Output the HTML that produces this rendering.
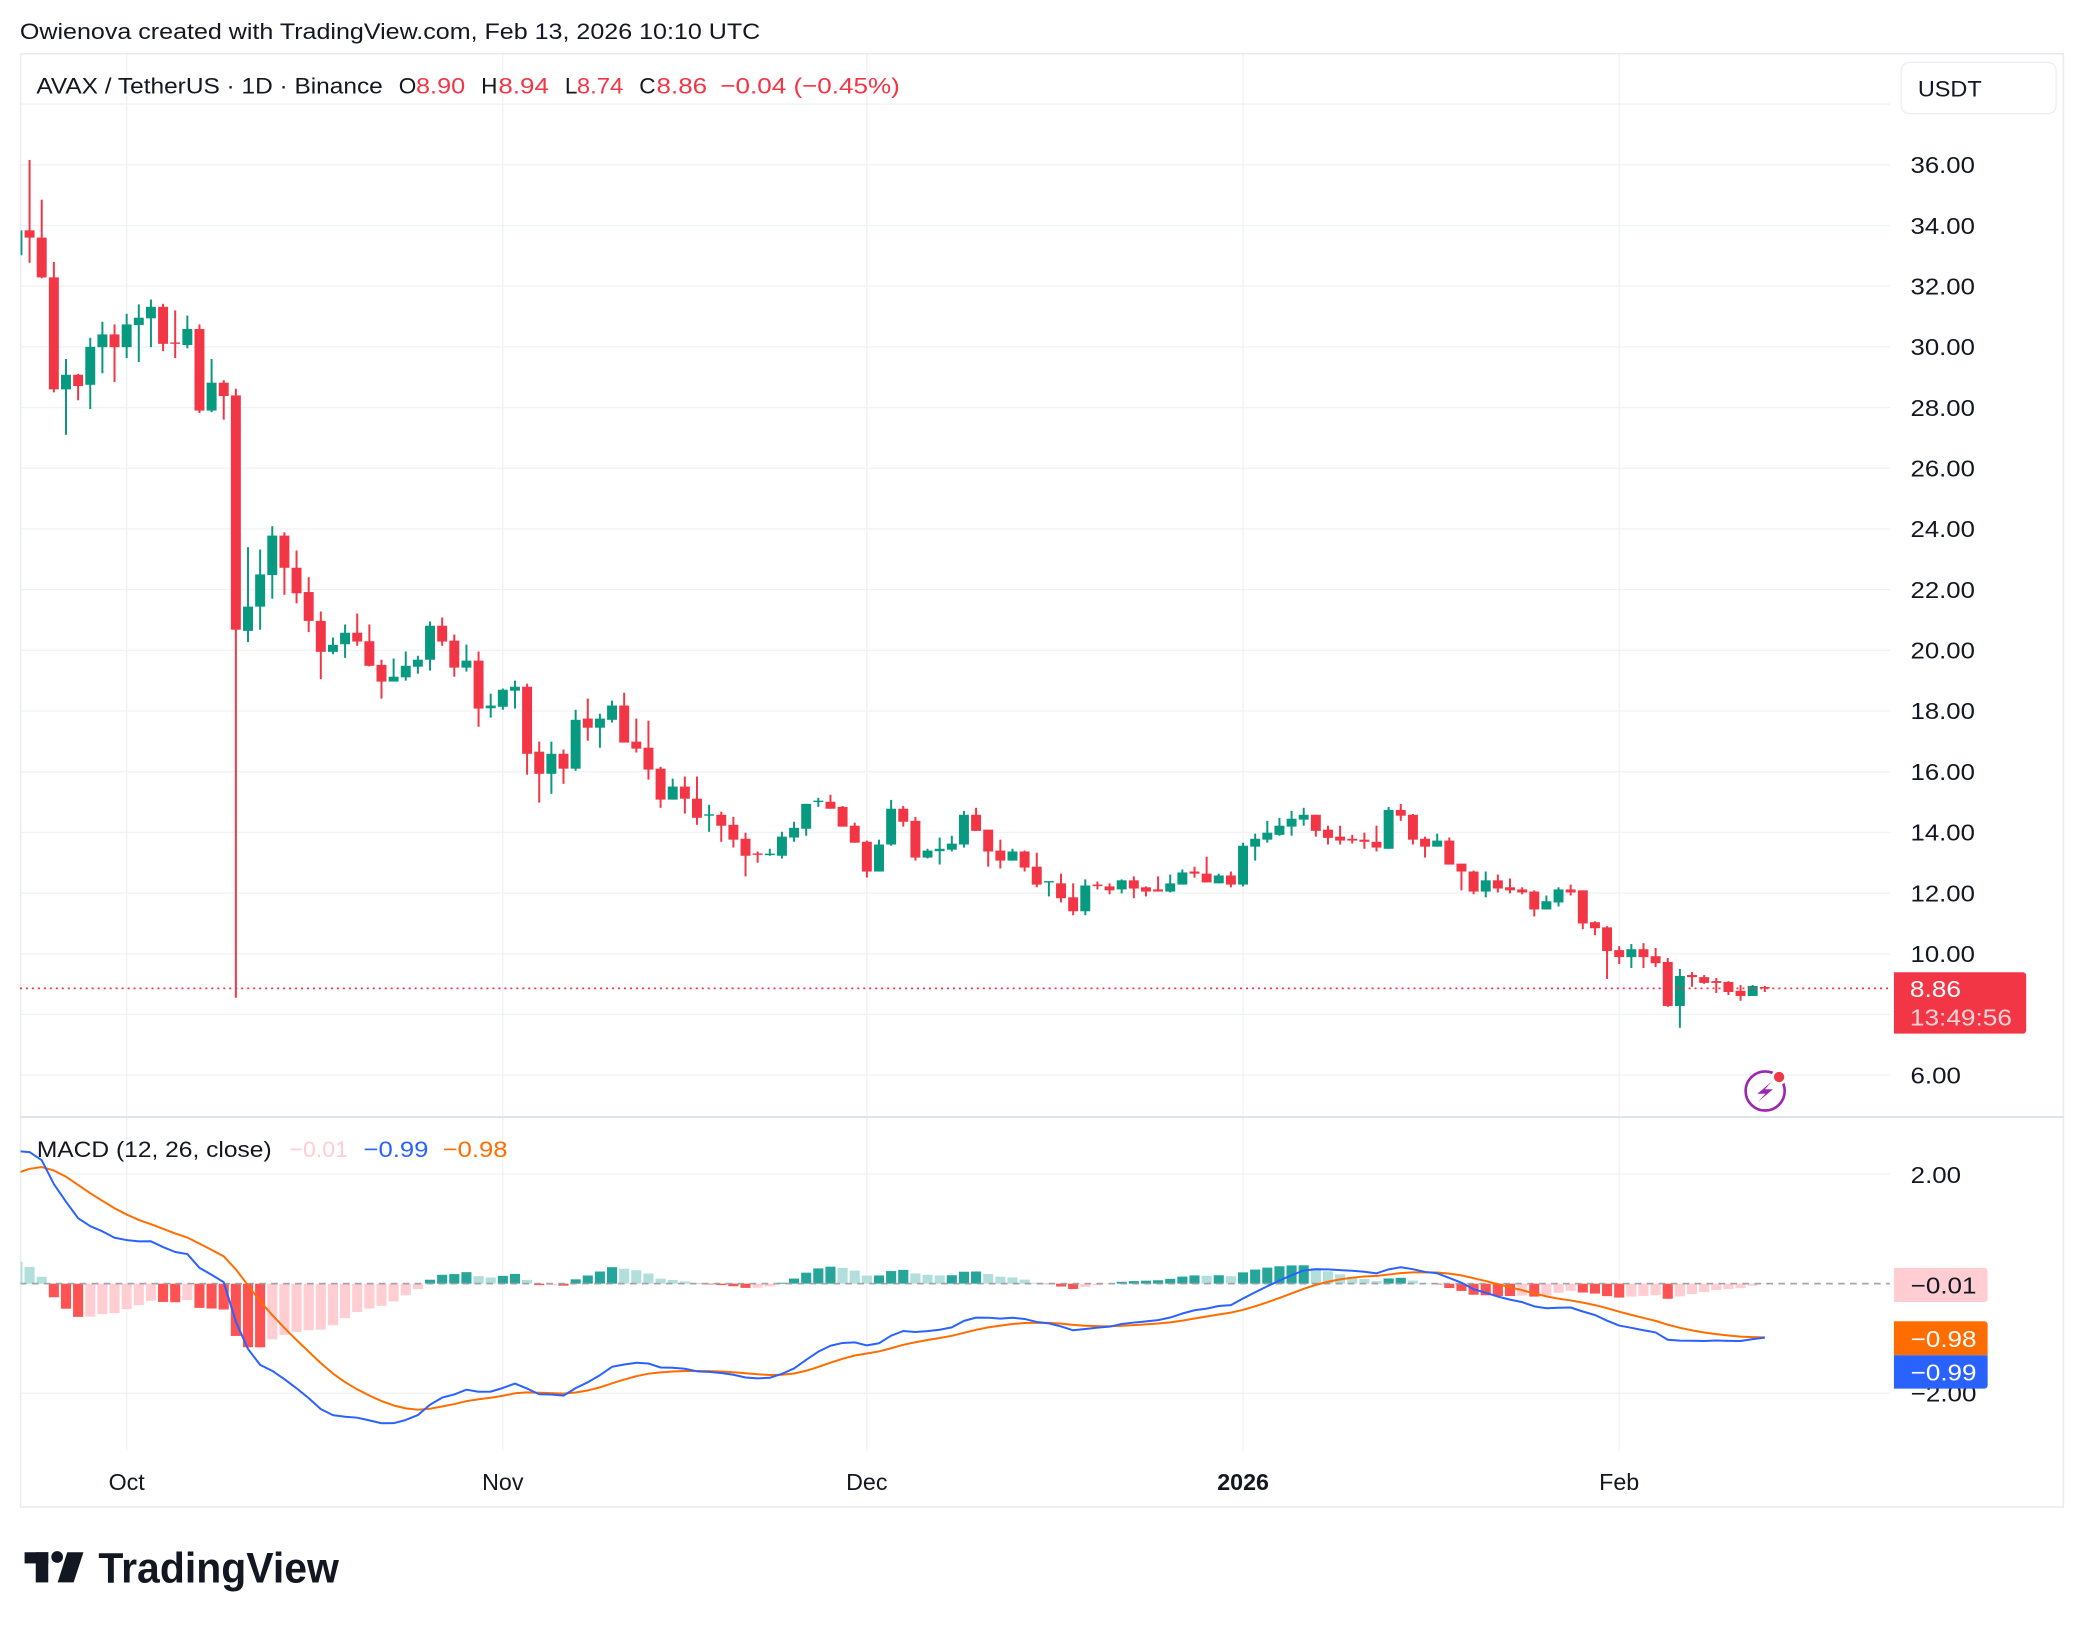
<!DOCTYPE html>
<html>
<head>
<meta charset="utf-8">
<style>
html,body{margin:0;padding:0;background:#fff;width:2084px;height:1628px;overflow:hidden}
svg{display:block}
text{font-family:"Liberation Sans",Arial,sans-serif;fill:#131722}
</style>
</head>
<body>
<svg xmlns="http://www.w3.org/2000/svg" width="2084" height="1628" viewBox="0 0 1568 1225" preserveAspectRatio="none">
<defs>
<clipPath id="cp1"><rect x="15.5" y="41" width="1406.5" height="799"/></clipPath>
<clipPath id="cp2"><rect x="15.5" y="841.5" width="1406.5" height="251"/></clipPath>
</defs>
<rect x="0" y="0" width="1568" height="1225" fill="#fff"/>
<text x="15" y="29.5" font-size="17" textLength="557" lengthAdjust="spacingAndGlyphs">Owienova created with TradingView.com, Feb 13, 2026 10:10 UTC</text>

<g stroke="#f0f2f5" stroke-width="1">
<line x1="15" x2="1422" y1="78.33" y2="78.33"/>
<line x1="15" x2="1422" y1="124" y2="124"/>
<line x1="15" x2="1422" y1="169.67" y2="169.67"/>
<line x1="15" x2="1422" y1="215.33" y2="215.33"/>
<line x1="15" x2="1422" y1="261" y2="261"/>
<line x1="15" x2="1422" y1="306.67" y2="306.67"/>
<line x1="15" x2="1422" y1="352.33" y2="352.33"/>
<line x1="15" x2="1422" y1="398" y2="398"/>
<line x1="15" x2="1422" y1="443.67" y2="443.67"/>
<line x1="15" x2="1422" y1="489.33" y2="489.33"/>
<line x1="15" x2="1422" y1="535" y2="535"/>
<line x1="15" x2="1422" y1="580.67" y2="580.67"/>
<line x1="15" x2="1422" y1="626.33" y2="626.33"/>
<line x1="15" x2="1422" y1="672" y2="672"/>
<line x1="15" x2="1422" y1="717.67" y2="717.67"/>
<line x1="15" x2="1422" y1="763.33" y2="763.33"/>
<line x1="15" x2="1422" y1="809" y2="809"/>
<line x1="15" x2="1422" y1="883.4" y2="883.4"/>
<line x1="15" x2="1422" y1="1048.4" y2="1048.4"/>
<line x1="95.3" x2="95.3" y1="41" y2="1092"/>
<line x1="378.3" x2="378.3" y1="41" y2="1092"/>
<line x1="652.2" x2="652.2" y1="41" y2="1092"/>
<line x1="935.3" x2="935.3" y1="41" y2="1092"/>
<line x1="1218.3" x2="1218.3" y1="41" y2="1092"/>
</g>

<rect x="15.5" y="40.5" width="1537" height="1093.5" fill="none" stroke="#e9ecf1" stroke-width="1.2"/>
<line x1="15" x2="1553" y1="840.5" y2="840.5" stroke="#e0e3eb" stroke-width="1.6"/>

<!-- CANDLES -->
<g clip-path="url(#cp1)">
<g transform="matrix(9.13 0 0 -22.8333 13.13 946)">
<g fill="#089981">
<rect x="-0.082" y="32.85" width=".164" height="1.05"/><rect x="-0.41" y="33.02" width=".82" height="0.82"/>
<rect x="3.918" y="27.10" width=".164" height="2.5"/><rect x="3.59" y="28.60" width=".82" height="0.48"/>
<rect x="5.918" y="27.95" width=".164" height="2.35"/><rect x="5.59" y="28.75" width=".82" height="1.25"/>
<rect x="6.918" y="29.13" width=".164" height="1.70"/><rect x="6.59" y="29.99" width=".82" height="0.42"/>
<rect x="8.918" y="29.63" width=".164" height="1.46"/><rect x="8.59" y="29.99" width=".82" height="0.75"/>
<rect x="9.918" y="29.50" width=".164" height="1.90"/><rect x="9.59" y="30.72" width=".82" height="0.24"/>
<rect x="10.918" y="29.99" width=".164" height="1.57"/><rect x="10.59" y="30.94" width=".82" height="0.38"/>
<rect x="13.918" y="29.95" width=".164" height="1.08"/><rect x="13.59" y="30.06" width=".82" height="0.53"/>
<rect x="15.918" y="27.85" width=".164" height="1.75"/><rect x="15.59" y="27.90" width=".82" height="0.92"/>
<rect x="18.918" y="20.27" width=".164" height="3.13"/><rect x="18.59" y="20.64" width=".82" height="0.80"/>
<rect x="19.918" y="20.68" width=".164" height="2.64"/><rect x="19.59" y="21.44" width=".82" height="1.06"/>
<rect x="20.918" y="21.70" width=".164" height="2.39"/><rect x="20.59" y="22.48" width=".82" height="1.30"/>
<rect x="25.918" y="19.87" width=".164" height="0.55"/><rect x="25.59" y="19.95" width=".82" height="0.23"/>
<rect x="26.918" y="19.75" width=".164" height="1.10"/><rect x="26.59" y="20.20" width=".82" height="0.38"/>
<rect x="30.918" y="18.97" width=".164" height="0.76"/><rect x="30.59" y="18.97" width=".82" height="0.16"/>
<rect x="31.918" y="19.00" width=".164" height="0.96"/><rect x="31.59" y="19.11" width=".82" height="0.38"/>
<rect x="32.918" y="19.23" width=".164" height="0.59"/><rect x="32.59" y="19.46" width=".82" height="0.23"/>
<rect x="33.918" y="19.33" width=".164" height="1.62"/><rect x="33.59" y="19.69" width=".82" height="1.12"/>
<rect x="36.918" y="19.30" width=".164" height="0.89"/><rect x="36.59" y="19.43" width=".82" height="0.23"/>
<rect x="38.918" y="17.78" width=".164" height="0.79"/><rect x="38.59" y="18.09" width=".82" height="0.09"/>
<rect x="39.918" y="18.04" width=".164" height="0.70"/><rect x="39.59" y="18.14" width=".82" height="0.56"/>
<rect x="40.918" y="18.08" width=".164" height="0.92"/><rect x="40.59" y="18.67" width=".82" height="0.13"/>
<rect x="43.918" y="15.27" width=".164" height="1.72"/><rect x="43.59" y="15.93" width=".82" height="0.66"/>
<rect x="45.918" y="16.03" width=".164" height="2.01"/><rect x="45.59" y="16.10" width=".82" height="1.61"/>
<rect x="47.918" y="16.79" width=".164" height="1.12"/><rect x="47.59" y="17.45" width=".82" height="0.30"/>
<rect x="48.918" y="17.62" width=".164" height="0.72"/><rect x="48.59" y="17.71" width=".82" height="0.47"/>
<rect x="53.918" y="15.08" width=".164" height="0.69"/><rect x="53.59" y="15.08" width=".82" height="0.43"/>
<rect x="56.918" y="14.02" width=".164" height="0.89"/><rect x="56.59" y="14.55" width=".82" height="0.045"/>
<rect x="61.918" y="13.23" width=".164" height="0.23"/><rect x="61.59" y="13.25" width=".82" height="0.05"/>
<rect x="62.918" y="13.14" width=".164" height="0.88"/><rect x="62.59" y="13.23" width=".82" height="0.63"/>
<rect x="63.918" y="13.69" width=".164" height="0.66"/><rect x="63.59" y="13.83" width=".82" height="0.32"/>
<rect x="64.918" y="13.89" width=".164" height="1.05"/><rect x="64.59" y="14.12" width=".82" height="0.82"/>
<rect x="65.918" y="14.84" width=".164" height="0.30"/><rect x="65.59" y="15.00" width=".82" height="0.045"/>
<rect x="70.918" y="12.71" width=".164" height="1.05"/><rect x="70.59" y="12.71" width=".82" height="0.89"/>
<rect x="71.918" y="13.56" width=".164" height="1.51"/><rect x="71.59" y="13.60" width=".82" height="1.18"/>
<rect x="74.918" y="13.14" width=".164" height="0.32"/><rect x="74.59" y="13.17" width=".82" height="0.23"/>
<rect x="75.918" y="12.94" width=".164" height="0.89"/><rect x="75.59" y="13.38" width=".82" height="0.08"/>
<rect x="76.918" y="13.37" width=".164" height="0.52"/><rect x="76.59" y="13.43" width=".82" height="0.20"/>
<rect x="77.918" y="13.50" width=".164" height="1.21"/><rect x="77.59" y="13.60" width=".82" height="0.98"/>
<rect x="81.918" y="13.07" width=".164" height="0.39"/><rect x="81.59" y="13.07" width=".82" height="0.30"/>
<rect x="84.918" y="11.89" width=".164" height="0.49"/><rect x="84.59" y="12.35" width=".82" height="0.045"/>
<rect x="87.918" y="11.27" width=".164" height="1.18"/><rect x="87.59" y="11.40" width=".82" height="0.85"/>
<rect x="90.918" y="11.99" width=".164" height="0.46"/><rect x="90.59" y="12.12" width=".82" height="0.30"/>
<rect x="94.918" y="12.02" width=".164" height="0.59"/><rect x="94.59" y="12.05" width=".82" height="0.27"/>
<rect x="95.918" y="12.28" width=".164" height="0.50"/><rect x="95.59" y="12.28" width=".82" height="0.40"/>
<rect x="98.918" y="12.32" width=".164" height="0.32"/><rect x="98.59" y="12.32" width=".82" height="0.26"/>
<rect x="100.918" y="12.22" width=".164" height="1.44"/><rect x="100.59" y="12.28" width=".82" height="1.28"/>
<rect x="101.918" y="13.07" width=".164" height="0.89"/><rect x="101.59" y="13.53" width=".82" height="0.26"/>
<rect x="102.918" y="13.66" width=".164" height="0.72"/><rect x="102.59" y="13.76" width=".82" height="0.23"/>
<rect x="103.918" y="13.89" width=".164" height="0.59"/><rect x="103.59" y="13.92" width=".82" height="0.30"/>
<rect x="104.918" y="13.89" width=".164" height="0.82"/><rect x="104.59" y="14.19" width=".82" height="0.26"/>
<rect x="105.918" y="14.22" width=".164" height="0.59"/><rect x="105.59" y="14.42" width=".82" height="0.16"/>
<rect x="112.918" y="13.46" width=".164" height="1.38"/><rect x="112.59" y="13.46" width=".82" height="1.28"/>
<rect x="116.918" y="13.53" width=".164" height="0.43"/><rect x="116.59" y="13.53" width=".82" height="0.20"/>
<rect x="120.918" y="11.86" width=".164" height="0.85"/><rect x="120.59" y="12.05" width=".82" height="0.37"/>
<rect x="125.918" y="11.46" width=".164" height="0.46"/><rect x="125.59" y="11.46" width=".82" height="0.27"/>
<rect x="126.918" y="11.56" width=".164" height="0.63"/><rect x="126.59" y="11.69" width=".82" height="0.43"/>
<rect x="132.918" y="9.53" width=".164" height="0.79"/><rect x="132.59" y="9.89" width=".82" height="0.26"/>
<rect x="136.918" y="7.56" width=".164" height="1.94"/><rect x="136.59" y="8.28" width=".82" height="0.99"/>
<rect x="142.918" y="8.61" width=".164" height="0.36"/><rect x="142.59" y="8.61" width=".82" height="0.33"/>
</g>
<g fill="#F23645">
<rect x="0.918" y="32.77" width=".164" height="3.39"/><rect x="0.59" y="33.60" width=".82" height="0.24"/>
<rect x="1.918" y="32.26" width=".164" height="2.59"/><rect x="1.59" y="32.29" width=".82" height="1.31"/>
<rect x="2.918" y="28.50" width=".164" height="4.30"/><rect x="2.59" y="28.60" width=".82" height="3.69"/>
<rect x="4.918" y="28.24" width=".164" height="0.87"/><rect x="4.59" y="28.71" width=".82" height="0.37"/>
<rect x="7.918" y="28.84" width=".164" height="1.90"/><rect x="7.59" y="29.99" width=".82" height="0.42"/>
<rect x="11.918" y="29.86" width=".164" height="1.56"/><rect x="11.59" y="30.10" width=".82" height="1.22"/>
<rect x="12.918" y="29.63" width=".164" height="1.57"/><rect x="12.59" y="30.10" width=".82" height="0.045"/>
<rect x="14.918" y="27.82" width=".164" height="2.92"/><rect x="14.59" y="27.90" width=".82" height="2.69"/>
<rect x="16.918" y="27.60" width=".164" height="1.30"/><rect x="16.59" y="28.38" width=".82" height="0.44"/>
<rect x="17.918" y="8.55" width=".164" height="20.07"/><rect x="17.59" y="20.68" width=".82" height="7.72"/>
<rect x="21.918" y="21.83" width=".164" height="2.06"/><rect x="21.59" y="22.72" width=".82" height="1.06"/>
<rect x="22.918" y="21.55" width=".164" height="1.74"/><rect x="22.59" y="21.88" width=".82" height="0.84"/>
<rect x="23.918" y="20.60" width=".164" height="1.81"/><rect x="23.59" y="20.97" width=".82" height="0.95"/>
<rect x="24.918" y="19.05" width=".164" height="2.23"/><rect x="24.59" y="19.95" width=".82" height="1.02"/>
<rect x="27.918" y="20.15" width=".164" height="1.06"/><rect x="27.59" y="20.29" width=".82" height="0.29"/>
<rect x="28.918" y="19.47" width=".164" height="1.38"/><rect x="28.59" y="19.49" width=".82" height="0.81"/>
<rect x="29.918" y="18.41" width=".164" height="1.28"/><rect x="29.59" y="18.97" width=".82" height="0.55"/>
<rect x="34.918" y="20.15" width=".164" height="0.93"/><rect x="34.59" y="20.29" width=".82" height="0.52"/>
<rect x="35.918" y="19.13" width=".164" height="1.39"/><rect x="35.59" y="19.43" width=".82" height="0.89"/>
<rect x="37.918" y="17.48" width=".164" height="2.48"/><rect x="37.59" y="18.08" width=".82" height="1.58"/>
<rect x="41.918" y="15.90" width=".164" height="3.00"/><rect x="41.59" y="16.59" width=".82" height="2.21"/>
<rect x="42.918" y="14.98" width=".164" height="2.01"/><rect x="42.59" y="15.93" width=".82" height="0.73"/>
<rect x="44.918" y="15.60" width=".164" height="1.13"/><rect x="44.59" y="16.10" width=".82" height="0.49"/>
<rect x="46.918" y="17.02" width=".164" height="1.39"/><rect x="46.59" y="17.45" width=".82" height="0.30"/>
<rect x="49.918" y="16.96" width=".164" height="1.64"/><rect x="49.59" y="16.96" width=".82" height="1.22"/>
<rect x="50.918" y="16.63" width=".164" height="1.12"/><rect x="50.59" y="16.76" width=".82" height="0.23"/>
<rect x="51.918" y="15.74" width=".164" height="1.94"/><rect x="51.59" y="16.07" width=".82" height="0.72"/>
<rect x="52.918" y="14.81" width=".164" height="1.35"/><rect x="52.59" y="15.08" width=".82" height="1.02"/>
<rect x="54.918" y="14.62" width=".164" height="1.22"/><rect x="54.59" y="15.11" width=".82" height="0.40"/>
<rect x="55.918" y="14.25" width=".164" height="1.59"/><rect x="55.59" y="14.48" width=".82" height="0.63"/>
<rect x="57.918" y="13.69" width=".164" height="0.99"/><rect x="57.59" y="14.22" width=".82" height="0.36"/>
<rect x="58.918" y="13.50" width=".164" height="1.01"/><rect x="58.59" y="13.76" width=".82" height="0.49"/>
<rect x="59.918" y="12.55" width=".164" height="1.44"/><rect x="59.59" y="13.23" width=".82" height="0.56"/>
<rect x="60.918" y="13.00" width=".164" height="0.37"/><rect x="60.59" y="13.26" width=".82" height="0.045"/>
<rect x="66.918" y="14.78" width=".164" height="0.46"/><rect x="66.59" y="14.78" width=".82" height="0.23"/>
<rect x="67.918" y="14.19" width=".164" height="0.68"/><rect x="67.59" y="14.19" width=".82" height="0.65"/>
<rect x="68.918" y="13.66" width=".164" height="0.66"/><rect x="68.59" y="13.66" width=".82" height="0.56"/>
<rect x="69.918" y="12.51" width=".164" height="1.22"/><rect x="69.59" y="12.71" width=".82" height="0.98"/>
<rect x="72.918" y="14.19" width=".164" height="0.68"/><rect x="72.59" y="14.35" width=".82" height="0.43"/>
<rect x="73.918" y="13.07" width=".164" height="1.44"/><rect x="73.59" y="13.17" width=".82" height="1.21"/>
<rect x="78.918" y="14.05" width=".164" height="0.76"/><rect x="78.59" y="14.05" width=".82" height="0.53"/>
<rect x="79.918" y="12.87" width=".164" height="1.22"/><rect x="79.59" y="13.37" width=".82" height="0.72"/>
<rect x="80.918" y="12.81" width=".164" height="0.95"/><rect x="80.59" y="13.07" width=".82" height="0.33"/>
<rect x="82.918" y="12.71" width=".164" height="0.69"/><rect x="82.59" y="12.84" width=".82" height="0.53"/>
<rect x="83.918" y="12.19" width=".164" height="1.14"/><rect x="83.59" y="12.28" width=".82" height="0.59"/>
<rect x="85.918" y="11.69" width=".164" height="0.95"/><rect x="85.59" y="11.83" width=".82" height="0.49"/>
<rect x="86.918" y="11.27" width=".164" height="1.05"/><rect x="86.59" y="11.40" width=".82" height="0.46"/>
<rect x="88.918" y="12.12" width=".164" height="0.26"/><rect x="88.59" y="12.23" width=".82" height="0.05"/>
<rect x="89.918" y="11.96" width=".164" height="0.36"/><rect x="89.59" y="12.09" width=".82" height="0.13"/>
<rect x="91.918" y="11.83" width=".164" height="0.72"/><rect x="91.59" y="12.15" width=".82" height="0.27"/>
<rect x="92.918" y="11.89" width=".164" height="0.33"/><rect x="92.59" y="12.05" width=".82" height="0.14"/>
<rect x="93.918" y="12.05" width=".164" height="0.50"/><rect x="93.59" y="12.05" width=".82" height="0.07"/>
<rect x="96.918" y="12.51" width=".164" height="0.36"/><rect x="96.59" y="12.64" width=".82" height="0.07"/>
<rect x="97.918" y="12.35" width=".164" height="0.85"/><rect x="97.59" y="12.35" width=".82" height="0.29"/>
<rect x="99.918" y="12.19" width=".164" height="0.52"/><rect x="99.59" y="12.28" width=".82" height="0.30"/>
<rect x="106.918" y="13.86" width=".164" height="0.72"/><rect x="106.59" y="14.05" width=".82" height="0.53"/>
<rect x="107.918" y="13.60" width=".164" height="0.62"/><rect x="107.59" y="13.82" width=".82" height="0.27"/>
<rect x="108.918" y="13.60" width=".164" height="0.62"/><rect x="108.59" y="13.73" width=".82" height="0.13"/>
<rect x="109.918" y="13.63" width=".164" height="0.29"/><rect x="109.59" y="13.73" width=".82" height="0.06"/>
<rect x="110.918" y="13.46" width=".164" height="0.53"/><rect x="110.59" y="13.69" width=".82" height="0.07"/>
<rect x="111.918" y="13.37" width=".164" height="0.85"/><rect x="111.59" y="13.50" width=".82" height="0.19"/>
<rect x="113.918" y="14.38" width=".164" height="0.56"/><rect x="113.59" y="14.55" width=".82" height="0.19"/>
<rect x="114.918" y="13.60" width=".164" height="1.01"/><rect x="114.59" y="13.76" width=".82" height="0.82"/>
<rect x="115.918" y="13.17" width=".164" height="0.69"/><rect x="115.59" y="13.53" width=".82" height="0.26"/>
<rect x="117.918" y="12.94" width=".164" height="0.89"/><rect x="117.59" y="12.94" width=".82" height="0.79"/>
<rect x="118.918" y="12.09" width=".164" height="0.88"/><rect x="118.59" y="12.71" width=".82" height="0.26"/>
<rect x="119.918" y="11.96" width=".164" height="0.78"/><rect x="119.59" y="12.05" width=".82" height="0.66"/>
<rect x="121.918" y="12.02" width=".164" height="0.59"/><rect x="121.59" y="12.15" width=".82" height="0.27"/>
<rect x="122.918" y="11.99" width=".164" height="0.49"/><rect x="122.59" y="12.09" width=".82" height="0.10"/>
<rect x="123.918" y="11.96" width=".164" height="0.23"/><rect x="123.59" y="12.02" width=".82" height="0.10"/>
<rect x="124.918" y="11.23" width=".164" height="0.86"/><rect x="124.59" y="11.46" width=".82" height="0.59"/>
<rect x="127.918" y="11.92" width=".164" height="0.36"/><rect x="127.59" y="12.02" width=".82" height="0.10"/>
<rect x="128.918" y="10.81" width=".164" height="1.28"/><rect x="128.59" y="11.00" width=".82" height="1.09"/>
<rect x="129.918" y="10.61" width=".164" height="0.46"/><rect x="129.59" y="10.84" width=".82" height="0.20"/>
<rect x="130.918" y="9.17" width=".164" height="1.74"/><rect x="130.59" y="10.09" width=".82" height="0.78"/>
<rect x="131.918" y="9.66" width=".164" height="0.59"/><rect x="131.59" y="9.89" width=".82" height="0.23"/>
<rect x="133.918" y="9.53" width=".164" height="0.82"/><rect x="133.59" y="9.89" width=".82" height="0.26"/>
<rect x="134.918" y="9.56" width=".164" height="0.63"/><rect x="134.59" y="9.69" width=".82" height="0.23"/>
<rect x="135.918" y="8.25" width=".164" height="1.61"/><rect x="135.59" y="8.28" width=".82" height="1.45"/>
<rect x="137.918" y="8.91" width=".164" height="0.49"/><rect x="137.59" y="9.23" width=".82" height="0.07"/>
<rect x="138.918" y="9.01" width=".164" height="0.29"/><rect x="138.59" y="9.04" width=".82" height="0.19"/>
<rect x="139.918" y="8.71" width=".164" height="0.49"/><rect x="139.59" y="9.04" width=".82" height="0.06"/>
<rect x="140.918" y="8.64" width=".164" height="0.46"/><rect x="140.59" y="8.74" width=".82" height="0.33"/>
<rect x="141.918" y="8.45" width=".164" height="0.52"/><rect x="141.59" y="8.61" width=".82" height="0.17"/>
<rect x="143.918" y="8.74" width=".164" height="0.20"/><rect x="143.59" y="8.86" width=".82" height="0.045"/>
</g>
</g>
</g>
<line x1="15" x2="1422" y1="743.7" y2="743.7" stroke="#F23645" stroke-width="1.3" stroke-dasharray="1.5 3"/>

<!-- MACD -->
<g clip-path="url(#cp2)">
<g transform="matrix(9.13 0 0 -41.23 13.13 965.9)">
<g fill="#26A69A">
<rect x="33.584" y="0" width=".832" height=".072"/><rect x="34.584" y="0" width=".832" height=".162"/><rect x="35.584" y="0" width=".832" height=".175"/><rect x="36.584" y="0" width=".832" height=".210"/>
<rect x="39.584" y="0" width=".832" height=".142"/><rect x="40.584" y="0" width=".832" height=".178"/>
<rect x="45.584" y="0" width=".832" height=".079"/><rect x="46.584" y="0" width=".832" height=".149"/><rect x="47.584" y="0" width=".832" height=".222"/><rect x="48.584" y="0" width=".832" height=".301"/>
<rect x="62.584" y="0" width=".832" height=".017"/><rect x="63.584" y="0" width=".832" height=".093"/><rect x="64.584" y="0" width=".832" height=".201"/><rect x="65.584" y="0" width=".832" height=".279"/><rect x="66.584" y="0" width=".832" height=".310"/>
<rect x="70.584" y="0" width=".832" height=".150"/><rect x="71.584" y="0" width=".832" height=".230"/><rect x="72.584" y="0" width=".832" height=".252"/>
<rect x="76.584" y="0" width=".832" height=".154"/><rect x="77.584" y="0" width=".832" height=".218"/><rect x="78.584" y="0" width=".832" height=".222"/>
<rect x="90.584" y="0" width=".832" height=".034"/><rect x="91.584" y="0" width=".832" height=".047"/><rect x="92.584" y="0" width=".832" height=".054"/><rect x="93.584" y="0" width=".832" height=".062"/><rect x="94.584" y="0" width=".832" height=".088"/><rect x="95.584" y="0" width=".832" height=".129"/><rect x="96.584" y="0" width=".832" height=".151"/>
<rect x="98.584" y="0" width=".832" height=".154"/>
<rect x="100.584" y="0" width=".832" height=".206"/><rect x="101.584" y="0" width=".832" height=".257"/><rect x="102.584" y="0" width=".832" height=".293"/><rect x="103.584" y="0" width=".832" height=".317"/><rect x="104.584" y="0" width=".832" height=".333"/><rect x="105.584" y="0" width=".832" height=".335"/>
<rect x="112.584" y="0" width=".832" height=".095"/><rect x="113.584" y="0" width=".832" height=".107"/>
</g>
<g fill="#B2DFDB">
<rect x="-0.416" y="0" width=".832" height=".40"/><rect x="0.584" y="0" width=".832" height=".305"/><rect x="1.584" y="0" width=".832" height=".126"/>
<rect x="37.584" y="0" width=".832" height=".138"/><rect x="38.584" y="0" width=".832" height=".112"/>
<rect x="41.584" y="0" width=".832" height=".069"/>
<rect x="49.584" y="0" width=".832" height=".274"/><rect x="50.584" y="0" width=".832" height=".245"/><rect x="51.584" y="0" width=".832" height=".186"/><rect x="52.584" y="0" width=".832" height=".090"/><rect x="53.584" y="0" width=".832" height=".068"/><rect x="54.584" y="0" width=".832" height=".040"/>
<rect x="67.584" y="0" width=".832" height=".289"/><rect x="68.584" y="0" width=".832" height=".239"/><rect x="69.584" y="0" width=".832" height=".147"/>
<rect x="73.584" y="0" width=".832" height=".187"/><rect x="74.584" y="0" width=".832" height=".162"/><rect x="75.584" y="0" width=".832" height=".150"/>
<rect x="79.584" y="0" width=".832" height=".177"/><rect x="80.584" y="0" width=".832" height=".127"/><rect x="81.584" y="0" width=".832" height=".115"/><rect x="82.584" y="0" width=".832" height=".074"/><rect x="83.584" y="0" width=".832" height=".015"/>
<rect x="97.584" y="0" width=".832" height=".145"/><rect x="99.584" y="0" width=".832" height=".137"/>
<rect x="106.584" y="0" width=".832" height=".286"/><rect x="107.584" y="0" width=".832" height=".226"/><rect x="108.584" y="0" width=".832" height=".170"/><rect x="109.584" y="0" width=".832" height=".126"/><rect x="110.584" y="0" width=".832" height=".087"/><rect x="111.584" y="0" width=".832" height=".046"/>
<rect x="114.584" y="0" width=".832" height=".057"/><rect x="115.584" y="0" width=".832" height=".006"/>
</g>
<g fill="#FF5252">
<rect x="2.584" y="-.248" width=".832" height=".248"/><rect x="3.584" y="-.457" width=".832" height=".457"/><rect x="4.584" y="-.606" width=".832" height=".606"/>
<rect x="11.584" y="-.334" width=".832" height=".334"/><rect x="12.584" y="-.339" width=".832" height=".339"/>
<rect x="14.584" y="-.442" width=".832" height=".442"/><rect x="15.584" y="-.454" width=".832" height=".454"/><rect x="16.584" y="-.472" width=".832" height=".472"/><rect x="17.584" y="-.954" width=".832" height=".954"/><rect x="18.584" y="-1.161" width=".832" height="1.161"/><rect x="19.584" y="-1.162" width=".832" height="1.162"/>
<rect x="42.584" y="-.027" width=".832" height=".027"/><rect x="44.584" y="-.037" width=".832" height=".037"/>
<rect x="55.584" y="-.006" width=".832" height=".006"/><rect x="56.584" y="-.014" width=".832" height=".014"/><rect x="57.584" y="-.026" width=".832" height=".026"/><rect x="58.584" y="-.047" width=".832" height=".047"/><rect x="59.584" y="-.077" width=".832" height=".077"/>
<rect x="84.584" y="-.009" width=".832" height=".009"/><rect x="85.584" y="-.052" width=".832" height=".052"/><rect x="86.584" y="-.098" width=".832" height=".098"/>
<rect x="116.584" y="-.015" width=".832" height=".015"/><rect x="117.584" y="-.080" width=".832" height=".080"/><rect x="118.584" y="-.133" width=".832" height=".133"/><rect x="119.584" y="-.202" width=".832" height=".202"/><rect x="120.584" y="-.212" width=".832" height=".212"/><rect x="121.584" y="-.226" width=".832" height=".226"/><rect x="122.584" y="-.226" width=".832" height=".226"/>
<rect x="124.584" y="-.236" width=".832" height=".236"/>
<rect x="128.584" y="-.162" width=".832" height=".162"/><rect x="129.584" y="-.181" width=".832" height=".181"/><rect x="130.584" y="-.228" width=".832" height=".228"/><rect x="131.584" y="-.254" width=".832" height=".254"/>
<rect x="135.584" y="-.276" width=".832" height=".276"/>
</g>
<g fill="#FFCDD2">
<rect x="5.584" y="-.602" width=".832" height=".602"/><rect x="6.584" y="-.557" width=".832" height=".557"/><rect x="7.584" y="-.539" width=".832" height=".539"/><rect x="8.584" y="-.465" width=".832" height=".465"/><rect x="9.584" y="-.391" width=".832" height=".391"/><rect x="10.584" y="-.312" width=".832" height=".312"/>
<rect x="13.584" y="-.302" width=".832" height=".302"/>
<rect x="20.584" y="-1.017" width=".832" height="1.017"/><rect x="21.584" y="-.935" width=".832" height=".935"/><rect x="22.584" y="-.881" width=".832" height=".881"/><rect x="23.584" y="-.849" width=".832" height=".849"/><rect x="24.584" y="-.839" width=".832" height=".839"/><rect x="25.584" y="-.760" width=".832" height=".760"/><rect x="26.584" y="-.630" width=".832" height=".630"/><rect x="27.584" y="-.518" width=".832" height=".518"/><rect x="28.584" y="-.454" width=".832" height=".454"/><rect x="29.584" y="-.405" width=".832" height=".405"/><rect x="30.584" y="-.323" width=".832" height=".323"/><rect x="31.584" y="-.212" width=".832" height=".212"/><rect x="32.584" y="-.098" width=".832" height=".098"/>
<rect x="43.584" y="-.026" width=".832" height=".026"/>
<rect x="60.584" y="-.074" width=".832" height=".074"/><rect x="61.584" y="-.051" width=".832" height=".051"/>
<rect x="87.584" y="-.060" width=".832" height=".060"/><rect x="88.584" y="-.028" width=".832" height=".028"/><rect x="89.584" y="-.008" width=".832" height=".008"/>
<rect x="123.584" y="-.218" width=".832" height=".218"/>
<rect x="125.584" y="-.217" width=".832" height=".217"/><rect x="126.584" y="-.166" width=".832" height=".166"/><rect x="127.584" y="-.129" width=".832" height=".129"/>
<rect x="132.584" y="-.236" width=".832" height=".236"/><rect x="133.584" y="-.224" width=".832" height=".224"/><rect x="134.584" y="-.211" width=".832" height=".211"/>
<rect x="136.584" y="-.233" width=".832" height=".233"/><rect x="137.584" y="-.188" width=".832" height=".188"/><rect x="138.584" y="-.154" width=".832" height=".154"/><rect x="139.584" y="-.117" width=".832" height=".117"/><rect x="140.584" y="-.098" width=".832" height=".098"/><rect x="141.584" y="-.081" width=".832" height=".081"/><rect x="142.584" y="-.037" width=".832" height=".037"/><rect x="143.584" y="-.006" width=".832" height=".006"/>
</g>
</g>
<line x1="15" x2="1422" y1="965.9" y2="965.9" stroke="#9598A1" stroke-width="1.3" stroke-dasharray="5 4" opacity="0.85"/>
<g transform="matrix(9.13 0 0 -41.23 13.13 965.9)" fill="none" stroke-linejoin="round">
<polyline vector-effect="non-scaling-stroke" stroke="#FF6D00" stroke-width="2" points="0,2.02 1,2.096 2,2.128 3,2.066 4,1.952 5,1.801 6,1.651 7,1.512 8,1.377 9,1.261 10,1.163 11,1.085 12,1.002 13,0.917 14,0.842 15,0.731 16,0.617 17,0.499 18,0.260 19,-0.030 20,-0.320 21,-0.574 22,-0.808 23,-1.028 24,-1.240 25,-1.450 26,-1.640 27,-1.798 28,-1.928 29,-2.041 30,-2.142 31,-2.223 32,-2.276 33,-2.300 34,-2.282 35,-2.241 36,-2.197 37,-2.145 38,-2.110 39,-2.082 40,-2.046 41,-2.001 42,-1.984 43,-1.991 44,-1.997 45,-2.006 46,-1.986 47,-1.949 48,-1.893 49,-1.818 50,-1.750 51,-1.689 52,-1.643 53,-1.620 54,-1.603 55,-1.593 56,-1.594 57,-1.597 58,-1.604 59,-1.616 60,-1.635 61,-1.654 62,-1.667 63,-1.663 64,-1.640 65,-1.590 66,-1.520 67,-1.443 68,-1.371 69,-1.311 70,-1.274 71,-1.237 72,-1.179 73,-1.116 74,-1.069 75,-1.029 76,-0.991 77,-0.952 78,-0.897 79,-0.842 80,-0.798 81,-0.766 82,-0.737 83,-0.718 84,-0.714 85,-0.716 86,-0.729 87,-0.753 88,-0.768 89,-0.775 90,-0.777 91,-0.769 92,-0.757 93,-0.743 94,-0.728 95,-0.706 96,-0.674 97,-0.636 98,-0.600 99,-0.562 100,-0.528 101,-0.477 102,-0.413 103,-0.340 104,-0.261 105,-0.178 106,-0.094 107,-0.022 108,0.035 109,0.078 110,0.109 111,0.131 112,0.142 113,0.166 114,0.193 115,0.207 116,0.208 117,0.204 118,0.184 119,0.151 120,0.100 121,0.047 122,-0.009 123,-0.065 124,-0.119 125,-0.178 126,-0.232 127,-0.274 128,-0.306 129,-0.346 130,-0.391 131,-0.448 132,-0.511 133,-0.570 134,-0.626 135,-0.679 136,-0.748 137,-0.806 138,-0.853 139,-0.892 140,-0.921 141,-0.946 142,-0.966 143,-0.975 144,-0.980"/>
<polyline vector-effect="non-scaling-stroke" stroke="#2962FF" stroke-width="2" points="0,2.42 1,2.401 2,2.254 3,1.818 4,1.495 5,1.195 6,1.049 7,0.955 8,0.838 9,0.796 10,0.772 11,0.773 12,0.668 13,0.578 14,0.540 15,0.289 16,0.163 17,0.027 18,-0.694 19,-1.191 20,-1.482 21,-1.591 22,-1.743 23,-1.909 24,-2.089 25,-2.289 26,-2.400 27,-2.428 28,-2.446 29,-2.495 30,-2.547 31,-2.546 32,-2.488 33,-2.398 34,-2.210 35,-2.079 36,-2.022 37,-1.935 38,-1.972 39,-1.970 40,-1.904 41,-1.823 42,-1.915 43,-2.018 44,-2.023 45,-2.043 46,-1.907 47,-1.800 48,-1.671 49,-1.517 50,-1.476 51,-1.444 52,-1.457 53,-1.530 54,-1.535 55,-1.553 56,-1.600 57,-1.611 58,-1.630 59,-1.663 60,-1.712 61,-1.728 62,-1.718 63,-1.646 64,-1.547 65,-1.389 66,-1.241 67,-1.133 68,-1.082 69,-1.072 70,-1.127 71,-1.087 72,-0.949 73,-0.864 74,-0.882 75,-0.867 76,-0.841 77,-0.798 78,-0.679 79,-0.620 80,-0.621 81,-0.639 82,-0.622 83,-0.644 84,-0.699 85,-0.725 86,-0.781 87,-0.851 88,-0.828 89,-0.803 90,-0.785 91,-0.735 92,-0.710 93,-0.689 94,-0.666 95,-0.618 96,-0.545 97,-0.485 98,-0.455 99,-0.408 100,-0.391 101,-0.271 102,-0.156 103,-0.047 104,0.056 105,0.155 106,0.241 107,0.264 108,0.261 109,0.248 110,0.235 111,0.218 112,0.188 113,0.261 114,0.300 115,0.264 116,0.214 117,0.189 118,0.104 119,0.018 120,-0.102 121,-0.165 122,-0.235 123,-0.291 124,-0.337 125,-0.414 126,-0.449 127,-0.440 128,-0.435 129,-0.508 130,-0.572 131,-0.676 132,-0.765 133,-0.806 134,-0.850 135,-0.890 136,-1.024 137,-1.039 138,-1.041 139,-1.046 140,-1.038 141,-1.044 142,-1.047 143,-1.012 144,-0.985"/>
</g>
</g>

<!-- legend -->
<g font-size="17">
<text x="27.4" y="70.5" textLength="260.6" lengthAdjust="spacingAndGlyphs">AVAX / TetherUS · 1D · Binance</text>
<text x="300" y="70.5">O</text>
<text x="313" y="70.5" style="fill:#F23645" textLength="37" lengthAdjust="spacingAndGlyphs">8.90</text>
<text x="362" y="70.5">H</text>
<text x="375" y="70.5" style="fill:#F23645" textLength="38" lengthAdjust="spacingAndGlyphs">8.94</text>
<text x="425" y="70.5">L</text>
<text x="434" y="70.5" style="fill:#F23645" textLength="35" lengthAdjust="spacingAndGlyphs">8.74</text>
<text x="481" y="70.5">C</text>
<text x="494" y="70.5" style="fill:#F23645" textLength="38" lengthAdjust="spacingAndGlyphs">8.86</text>
<text x="542" y="70.5" style="fill:#F23645" textLength="135" lengthAdjust="spacingAndGlyphs">−0.04 (−0.45%)</text>
</g>

<rect x="1430.5" y="47" width="116.5" height="38.5" rx="6" fill="#fff" stroke="#eceef2" stroke-width="1"/>
<text x="1443" y="72.5" font-size="17" textLength="48" lengthAdjust="spacingAndGlyphs">USDT</text>

<g font-size="17.5">
<text x="1437.5" y="130.2" textLength="48.4" lengthAdjust="spacingAndGlyphs">36.00</text>
<text x="1437.5" y="175.9" textLength="48.4" lengthAdjust="spacingAndGlyphs">34.00</text>
<text x="1437.5" y="221.5" textLength="48.4" lengthAdjust="spacingAndGlyphs">32.00</text>
<text x="1437.5" y="267.2" textLength="48.4" lengthAdjust="spacingAndGlyphs">30.00</text>
<text x="1437.5" y="312.9" textLength="48.4" lengthAdjust="spacingAndGlyphs">28.00</text>
<text x="1437.5" y="358.5" textLength="48.4" lengthAdjust="spacingAndGlyphs">26.00</text>
<text x="1437.5" y="404.2" textLength="48.4" lengthAdjust="spacingAndGlyphs">24.00</text>
<text x="1437.5" y="449.9" textLength="48.4" lengthAdjust="spacingAndGlyphs">22.00</text>
<text x="1437.5" y="495.5" textLength="48.4" lengthAdjust="spacingAndGlyphs">20.00</text>
<text x="1437.5" y="541.2" textLength="48.4" lengthAdjust="spacingAndGlyphs">18.00</text>
<text x="1437.5" y="586.9" textLength="48.4" lengthAdjust="spacingAndGlyphs">16.00</text>
<text x="1437.5" y="632.5" textLength="48.4" lengthAdjust="spacingAndGlyphs">14.00</text>
<text x="1437.5" y="678.2" textLength="48.4" lengthAdjust="spacingAndGlyphs">12.00</text>
<text x="1437.5" y="723.9" textLength="48.4" lengthAdjust="spacingAndGlyphs">10.00</text>
<text x="1437.5" y="815.2" textLength="37.9" lengthAdjust="spacingAndGlyphs">6.00</text>
<text x="1437.6" y="890.2" textLength="37.9" lengthAdjust="spacingAndGlyphs">2.00</text>
<text x="1437.6" y="1054.6" textLength="49.5" lengthAdjust="spacingAndGlyphs">−2.00</text>
</g>

<path d="M1425 731.6 H1522 a2.5 2.5 0 0 1 2.5 2.5 V775.3 a2.5 2.5 0 0 1 -2.5 2.5 H1425 Z" fill="#F23645"/>
<text x="1437" y="750.3" font-size="17.5" style="fill:#ffffff" textLength="38.4" lengthAdjust="spacingAndGlyphs">8.86</text>
<text x="1437" y="771.5" font-size="17.5" style="fill:#fbd3d7" textLength="76.8" lengthAdjust="spacingAndGlyphs">13:49:56</text>

<circle cx="1328.1" cy="820.9" r="14.7" fill="none" stroke="#9C27B0" stroke-width="2"/>
<path d="M1333.2 813.8 L1322.2 823 L1328.3 823 L1322.8 829 L1334 819.6 L1327.9 819.6 Z" fill="#9C27B0"/>
<circle cx="1338.6" cy="810.4" r="5.8" fill="#fff"/>
<circle cx="1338.6" cy="810.4" r="3.9" fill="#F23645"/>

<g font-size="17">
<text x="27.7" y="870.5" textLength="176.7" lengthAdjust="spacingAndGlyphs">MACD (12, 26, close)</text>
<text x="217.8" y="870.5" style="fill:#FFCDD2" textLength="44" lengthAdjust="spacingAndGlyphs">−0.01</text>
<text x="273.5" y="870.5" style="fill:#2962FF" textLength="48.8" lengthAdjust="spacingAndGlyphs">−0.99</text>
<text x="333.1" y="870.5" style="fill:#FF6D00" textLength="48.8" lengthAdjust="spacingAndGlyphs">−0.98</text>
</g>

<path d="M1425 954 H1493 a2.5 2.5 0 0 1 2.5 2.5 V977.2 a2.5 2.5 0 0 1 -2.5 2.5 H1425 Z" fill="#FFCDD2"/>
<text x="1437.6" y="973.2" font-size="17.5" textLength="49.5" lengthAdjust="spacingAndGlyphs">−0.01</text>
<path d="M1425 994.2 H1493 a2.5 2.5 0 0 1 2.5 2.5 V1019.8 H1425 Z" fill="#FF6D00"/>
<text x="1437.6" y="1013.4" font-size="17.5" style="fill:#fff" textLength="49.5" lengthAdjust="spacingAndGlyphs">−0.98</text>
<path d="M1425 1019.8 H1495.5 V1042.4 a2.5 2.5 0 0 1 -2.5 2.5 H1425 Z" fill="#2962FF"/>
<text x="1437.6" y="1038.8" font-size="17.5" style="fill:#fff" textLength="49.5" lengthAdjust="spacingAndGlyphs">−0.99</text>

<g font-size="17.5" text-anchor="middle">
<text x="95.3" y="1121">Oct</text>
<text x="378.3" y="1121">Nov</text>
<text x="652.2" y="1121">Dec</text>
<text x="935.3" y="1121" font-weight="bold">2026</text>
<text x="1218.3" y="1121">Feb</text>
</g>

<g fill="#131722">
<rect x="18.5" y="1168" width="17.8" height="8.4"/>
<rect x="26.9" y="1168" width="9.4" height="22.7"/>
<circle cx="43" cy="1171.6" r="4.4"/>
<path d="M50.6 1168 H62.8 L55.4 1190.7 H43.4 Z"/>
</g>
<text x="74" y="1190.6" font-size="32" font-weight="bold" textLength="181" lengthAdjust="spacingAndGlyphs">TradingView</text>
</svg>
</body>
</html>
